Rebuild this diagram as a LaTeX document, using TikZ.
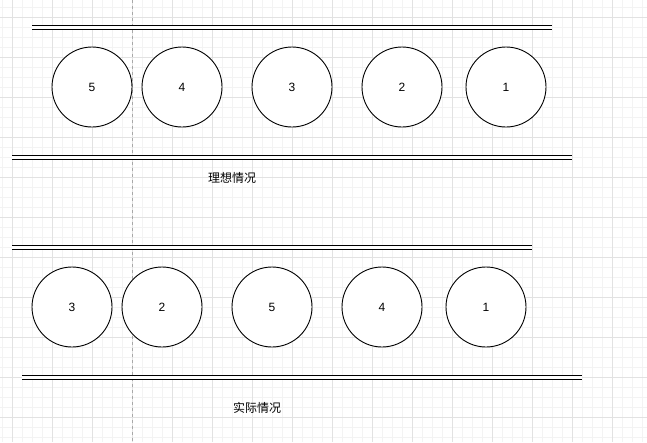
\documentclass[tikz,border=0pt]{standalone}
\usepackage{fontspec}
\setmainfont{Liberation Sans}
\newfontfamily\cjk{Noto Sans CJK SC}
\usetikzlibrary{positioning}

\definecolor{gridmajor}{HTML}{E2E2E2}
\definecolor{gridminor}{HTML}{F3F3F3}
\definecolor{guidegray}{HTML}{A8A8A8}

\begin{document}
\begin{tikzpicture}[
    x=1pt, y=-1pt,
    ball/.style={circle, draw, line width=0.9pt, fill=white, inner sep=0pt,
                 outer sep=0pt, minimum size=80pt, font=\fontsize{12}{14}\selectfont},
    rail/.style={draw, line width=1pt, double, double distance=3pt},
    caption/.style={font=\cjk\fontsize{12}{14}\selectfont},
    minor/.style={gridminor, line width=0.6pt},
    major/.style={gridmajor, line width=0.8pt}
]
\useasboundingbox[fill=white] (0,0) rectangle (647,442);

% background grid
\foreach \x in {2,12,...,642} \draw[minor] (\x,0) -- (\x,442);
\foreach \y in {7,17,...,437} \draw[minor] (0,\y) -- (647,\y);
\foreach \x in {12,52,...,612} \draw[major] (\x,0) -- (\x,442);
\foreach \y in {17,57,...,417} \draw[major] (0,\y) -- (647,\y);
\draw[guidegray, line width=0.8pt, dash pattern=on 3pt off 3pt] (132,0) -- (132,442);

% ideal case
\coordinate (idealTopL) at (32,27);
\coordinate (idealTopR) at (552,27);
\coordinate (idealBotL) at (12,157);
\coordinate (idealBotR) at (572,157);
\draw[rail] (idealTopL) -- (idealTopR);
\draw[rail] (idealBotL) -- (idealBotR);

\node[ball] (i5) at (92,87) {5};
\node[ball, right=10pt of i5] (i4) {4};
\node[ball, right=30pt of i4] (i3) {3};
\node[ball, right=30pt of i3] (i2) {2};
\node[ball, right=24pt of i2] (i1) {1};
\node[caption] (ideal) at (232,178) {理想情况};

% actual case
\coordinate (realTopL) at (12,247);
\coordinate (realTopR) at (532,247);
\coordinate (realBotL) at (22,377);
\coordinate (realBotR) at (582,377);
\draw[rail] (realTopL) -- (realTopR);
\draw[rail] (realBotL) -- (realBotR);

\node[ball] (r3) at (72,307) {3};
\node[ball, right=10pt of r3] (r2) {2};
\node[ball, right=30pt of r2] (r5) {5};
\node[ball, right=30pt of r5] (r4) {4};
\node[ball, right=24pt of r4] (r1) {1};
\node[caption] (actual) at (257,408) {实际情况};

\end{tikzpicture}
\end{document}
